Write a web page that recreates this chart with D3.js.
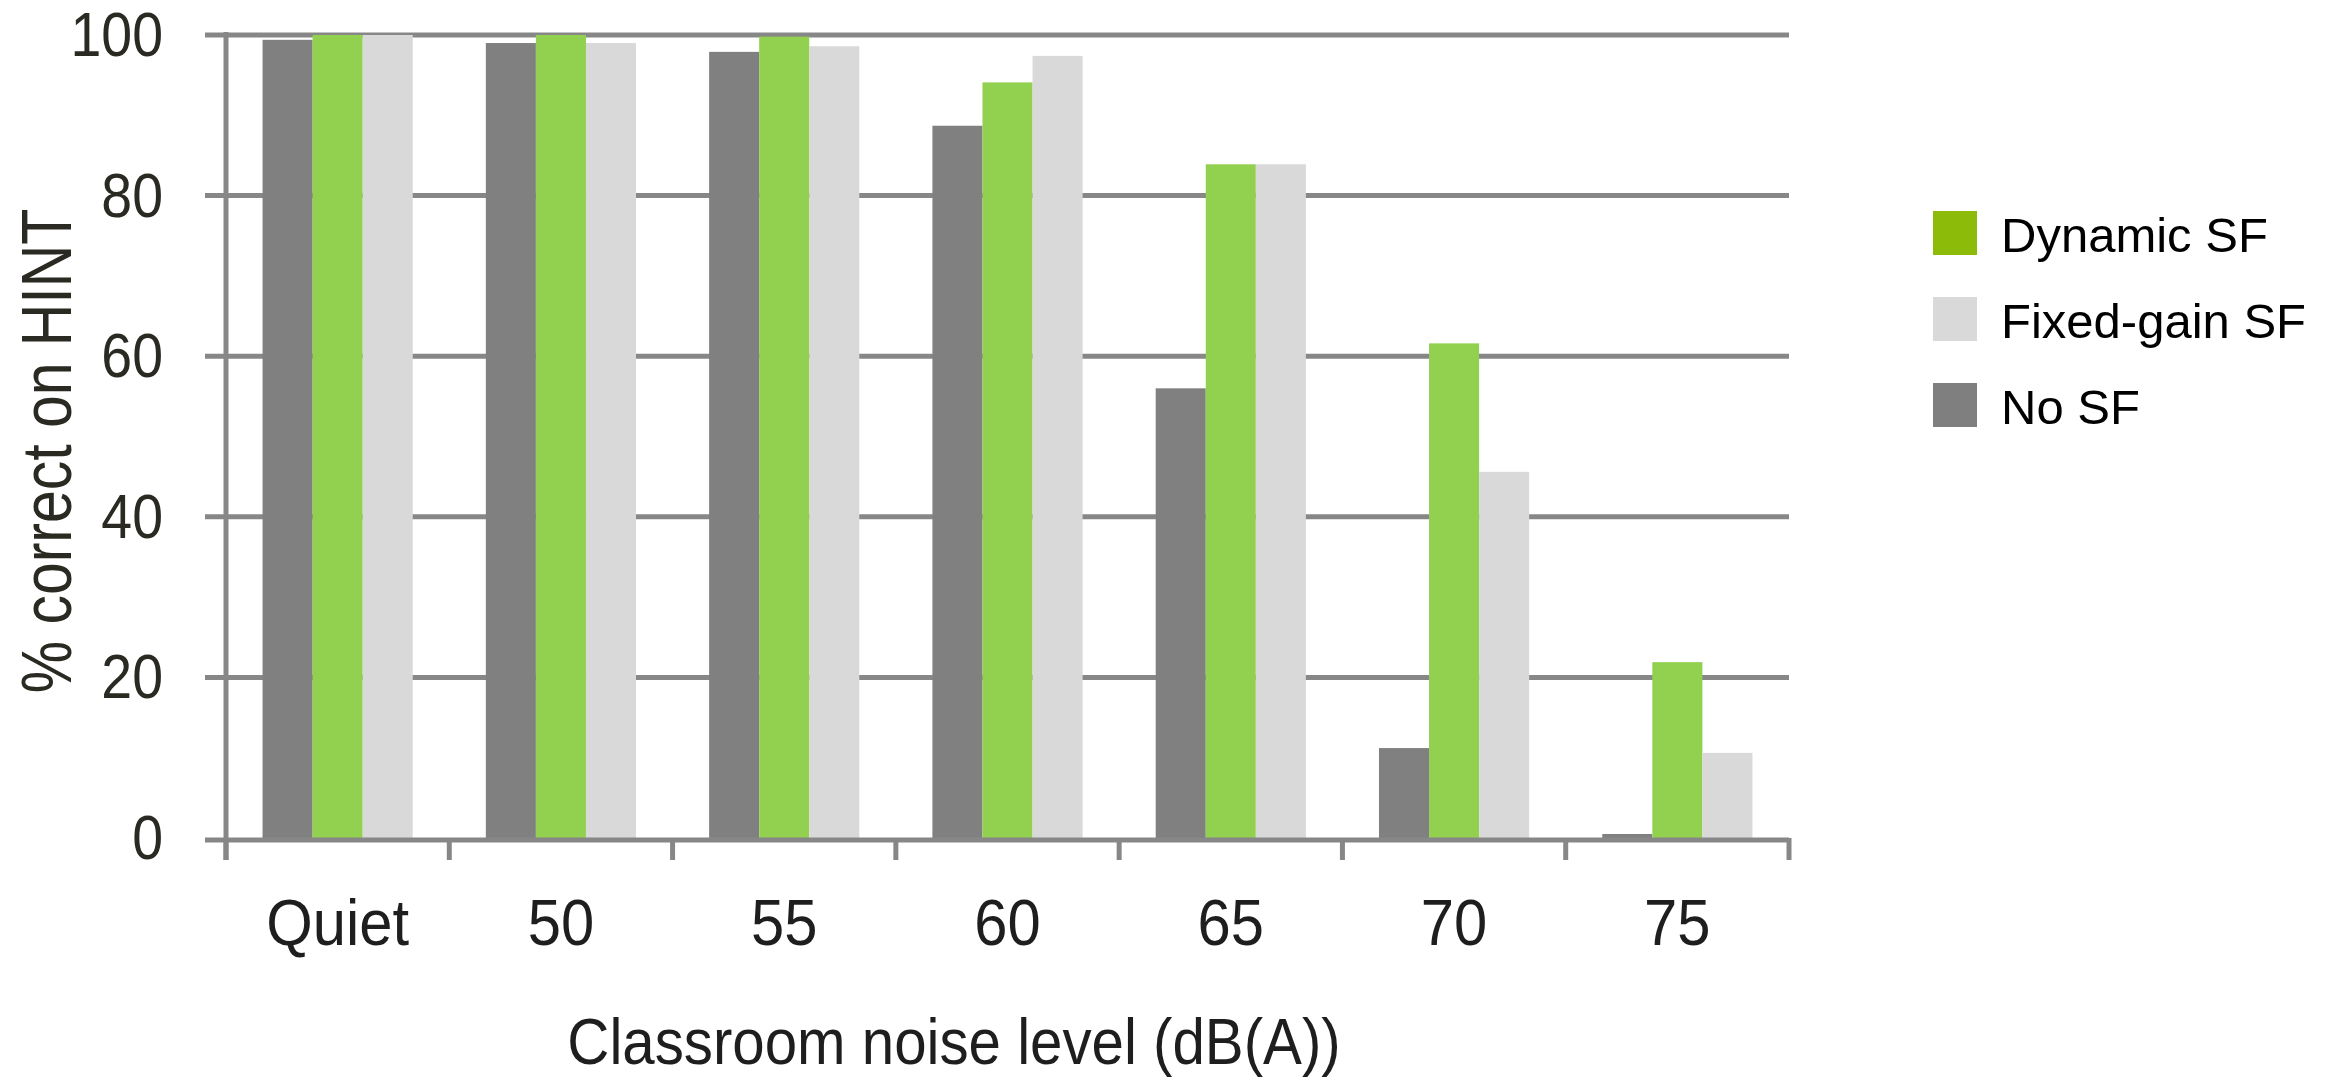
<!DOCTYPE html>
<html>
<head>
<meta charset="utf-8">
<script src="https://cdn.jsdelivr.net/npm/d3@7"></script>
<style>
  body { margin: 0; background: #fff; }
  svg { display: block; font-family: "Liberation Sans", Arial, sans-serif; }
</style>
</head>
<body>
<script>
// data
var categories = ['Quiet', '50', '55', '60', '65', '70', '75'];
var seriesNames = ['No SF', 'Dynamic SF', 'Fixed-gain SF'];
var noSF      = [99.4, 99.0, 97.9, 88.7, 56.0, 11.2, 0.5];
var dynamicSF = [100, 100, 99.8, 94.1, 83.9, 61.6, 21.9];
var fixedSF   = [100, 99.0, 98.6, 97.4, 83.9, 45.6, 10.6];
var yTicks = [0, 20, 40, 60, 80, 100];
var legendOrder = ['Dynamic SF', 'Fixed-gain SF', 'No SF'];

var barColor = {'No SF': '#808080', 'Dynamic SF': '#92d050', 'Fixed-gain SF': '#d9d9d9'};
var legendColor = {'No SF': '#7f7f7f', 'Dynamic SF': '#8cbb0a', 'Fixed-gain SF': '#d9d9d9'};

var width = 2328, height = 1077;
var plotLeft = 226, plotRight = 1789, plotTop = 35, plotBottom = 838;

var svg = d3.select('body').append('svg')
  .attr('width', width)
  .attr('height', height);

var x0 = d3.scaleBand().domain(categories).range([plotLeft, plotRight]).padding(0);
var x1 = d3.scaleBand().domain(seriesNames).range([0, x0.bandwidth()])
  .paddingInner(0).paddingOuter(0.73);
var y = d3.scaleLinear().domain([0, 100]).range([plotBottom, plotTop]);

var rows = categories.map(function(c, i){
  return {cat: c, vals: [
    {s: 'No SF', v: noSF[i]},
    {s: 'Dynamic SF', v: dynamicSF[i]},
    {s: 'Fixed-gain SF', v: fixedSF[i]}
  ]};
});

// gridlines
svg.append('g').selectAll('line').data(yTicks.filter(function(d){ return d > 0; }))
  .enter().append('line')
  .attr('x1', 205).attr('x2', plotRight)
  .attr('y1', function(d){ return y(d); })
  .attr('y2', function(d){ return y(d); })
  .attr('stroke', '#878787')
  .attr('stroke-width', 5);

// bars
var groups = svg.append('g').selectAll('g').data(rows).enter().append('g')
  .attr('transform', function(d){ return 'translate(' + x0(d.cat) + ',0)'; });
groups.selectAll('rect').data(function(d){ return d.vals; })
  .enter().append('rect')
  .attr('x', function(d){ return x1(d.s); })
  .attr('width', x1.bandwidth())
  .attr('y', function(d){ return y(d.v); })
  .attr('height', function(d){ return y(0) - y(d.v); })
  .attr('fill', function(d){ return barColor[d.s]; });

// zero line + y axis line
svg.append('line')
  .attr('x1', 205).attr('x2', plotRight)
  .attr('y1', y(0) + 2).attr('y2', y(0) + 2)
  .attr('stroke', '#878787').attr('stroke-width', 5);
svg.append('line')
  .attr('x1', plotLeft).attr('x2', plotLeft)
  .attr('y1', plotTop - 3).attr('y2', 860)
  .attr('stroke', '#878787').attr('stroke-width', 5);

// category boundary ticks
var bounds = categories.map(function(c){ return x0(c); }).concat([plotRight]);
svg.append('g').selectAll('line').data(bounds).enter().append('line')
  .attr('x1', function(d){ return d; }).attr('x2', function(d){ return d; })
  .attr('y1', y(0)).attr('y2', 860)
  .attr('stroke', '#878787').attr('stroke-width', 5);

// y tick labels
svg.append('g').selectAll('text').data(yTicks).enter().append('text')
  .attr('transform', function(d){ return 'translate(163,' + (y(d) + 21) + ') scale(0.88,1)'; })
  .attr('text-anchor', 'end')
  .attr('font-size', 63)
  .attr('fill', '#2a2a22')
  .text(function(d){ return d; });

// x tick labels
svg.append('g').selectAll('text').data(categories).enter().append('text')
  .attr('transform', function(d){ return 'translate(' + (x0(d) + x0.bandwidth() / 2) + ',945) scale(0.92,1)'; })
  .attr('text-anchor', 'middle')
  .attr('font-size', 65)
  .attr('fill', '#1e1e1e')
  .text(function(d){ return d; });

// axis titles
svg.append('text')
  .attr('transform', 'translate(954,1064) scale(0.91,1)')
  .attr('text-anchor', 'middle')
  .attr('font-size', 64)
  .attr('fill', '#1e1e1e')
  .text('Classroom noise level (dB(A))');

svg.append('text')
  .attr('transform', 'translate(71,451) rotate(-90) scale(0.83,1)')
  .attr('text-anchor', 'middle')
  .attr('font-size', 71)
  .attr('fill', '#2a2a22')
  .text('% correct on HINT');

// legend
var leg = svg.append('g').selectAll('g').data(legendOrder).enter().append('g')
  .attr('transform', function(d, i){ return 'translate(1933,' + (211 + i * 86) + ')'; });
leg.append('rect')
  .attr('width', 44).attr('height', 44)
  .attr('fill', function(d){ return legendColor[d]; });
leg.append('text')
  .attr('x', 68).attr('y', 41)
  .attr('font-size', 49)
  .attr('fill', '#000')
  .text(function(d){ return d; });
</script>
</body>
</html>
